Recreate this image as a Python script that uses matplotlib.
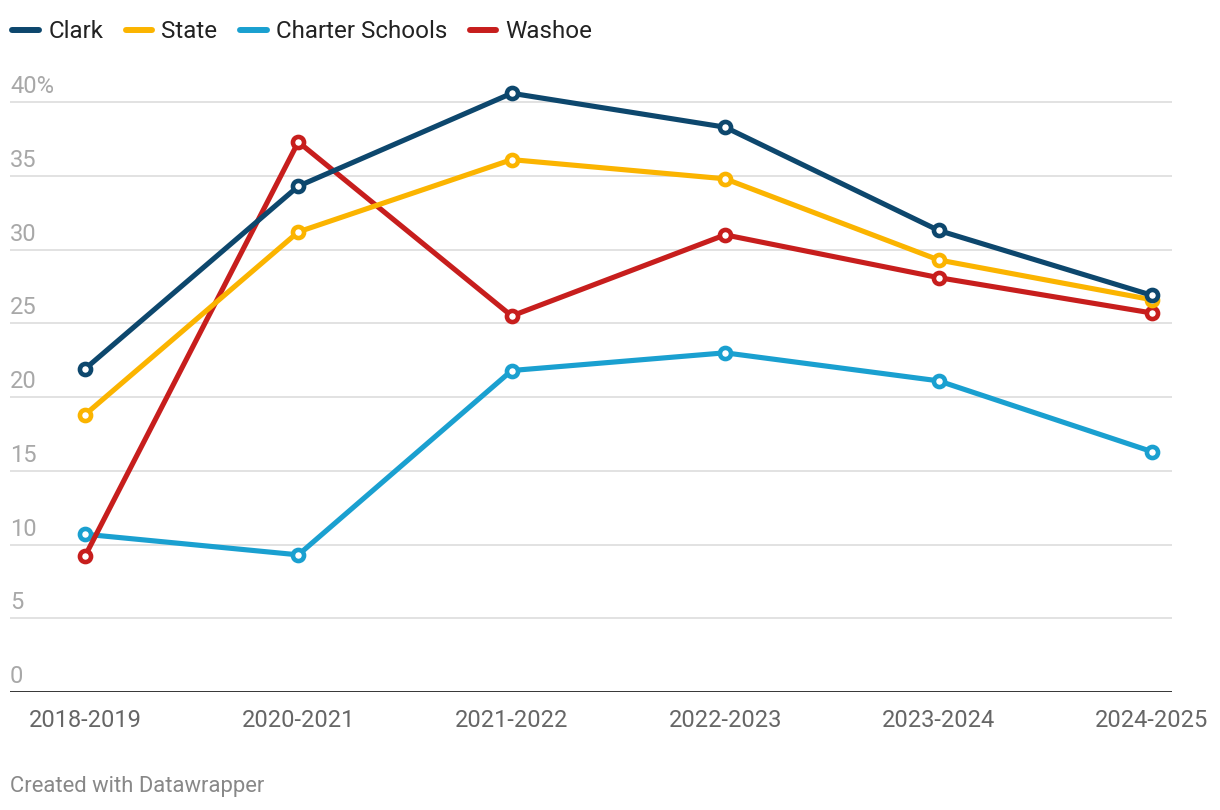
"""Share of students chronically absent by district, Datawrapper-style line chart."""
import matplotlib
matplotlib.use("Agg")
import matplotlib.pyplot as plt
from matplotlib.lines import Line2D

plt.rcParams["font.family"] = ["Roboto", "DejaVu Sans"]

years = ["2018-2019", "2020-2021", "2021-2022", "2022-2023", "2023-2024", "2024-2025"]
clark = [21.9, 34.3, 40.6, 38.3, 31.3, 26.9]
state = [18.8, 31.2, 36.1, 34.8, 29.3, 26.6]
charter = [10.7, 9.3, 21.8, 23.0, 21.1, 16.3]
washoe = [9.2, 37.3, 25.5, 31.0, 28.1, 25.7]

y_ticks = [0, 5, 10, 15, 20, 25, 30, 35, 40]

series = [
    ("Charter Schools", charter, "#1aa0d0"),
    ("Washoe", washoe, "#c71e1d"),
    ("State", state, "#fbb400"),
    ("Clark", clark, "#0d476d"),
]
legend_order = ["Clark", "State", "Charter Schools", "Washoe"]

fig = plt.figure(figsize=(12.2, 8.1), dpi=100)
ax = fig.add_axes([10 / 1220, 118 / 810, 1162 / 1220, 612 / 810])

x = list(range(len(years)))
colors = {}
for z, (name, vals, col) in enumerate(series):
    colors[name] = col
    ax.plot(x, vals, color=col, linewidth=3.7, solid_capstyle="round",
            solid_joinstyle="round", marker="o", markersize=8,
            markerfacecolor="white", markeredgecolor=col, markeredgewidth=3.3,
            zorder=3 + z, clip_on=False)

ax.set_xlim(-0.351, 5.094)
ax.set_ylim(0, 41.5)

# gridlines + inline y labels
for v in y_ticks:
    if v > 0:
        ax.axhline(v, color="#e2e2e2", linewidth=1.4, zorder=1)
    label = f"{v}%" if v == 40 else str(v)
    ax.annotate(label, xy=(0, v), xycoords=("axes fraction", "data"),
                xytext=(0, 6.5), textcoords="offset points",
                ha="left", va="baseline", fontsize=17, color="#a8a8a8")

ax.axhline(0, color="#222222", linewidth=2.0, zorder=2)

ax.set_xticks(x)
ax.set_xticklabels(years, fontsize=17, color="#666666")
ax.tick_params(axis="x", length=0, pad=12)
ax.set_yticks([])
for s in ax.spines.values():
    s.set_visible(False)

handles = [Line2D([0], [0], color=colors[n], linewidth=4.3, solid_capstyle="round")
           for n in legend_order]
fig.legend(handles, legend_order, loc="upper left",
           bbox_to_anchor=(12.5 / 1220, 1 - 20.5 / 810),
           ncol=4, frameon=False, fontsize=17.4, handlelength=1.1,
           handletextpad=0.38, columnspacing=0.93, borderaxespad=0.0,
           borderpad=0.0, labelcolor="#222222")

fig.text(10 / 1220, 1 - 792 / 810, "Created with Datawrapper", fontsize=15.8,
         color="#888888", ha="left", va="baseline")

fig.savefig("out.png", dpi=100, facecolor="white")
